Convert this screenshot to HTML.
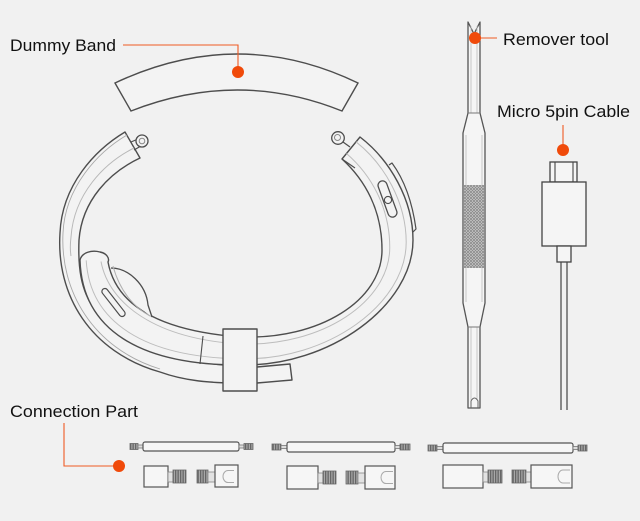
<!DOCTYPE html>
<html>
<head>
<meta charset="utf-8">
<style>
html,body{margin:0;padding:0;background:#f1f1f1;}
svg{display:block;}
text{font-family:"Liberation Sans",Arial,sans-serif;fill:#111;}
</style>
</head>
<body>
<svg width="640" height="521" viewBox="0 0 640 521" xmlns="http://www.w3.org/2000/svg">
<defs>
<pattern id="knurl" width="3" height="3" patternUnits="userSpaceOnUse">
<rect width="3" height="3" fill="#d4d4d4"/>
<path d="M0,0L3,3M3,0L0,3" stroke="#8a8a8a" stroke-width="0.8"/>
</pattern>
<pattern id="thr" width="2.5" height="4" patternUnits="userSpaceOnUse">
<rect width="2.5" height="4" fill="#a8a8a8"/>
<rect width="1.3" height="4" fill="#666"/>
</pattern>
</defs>
<rect width="640" height="521" fill="#f1f1f1"/>

<!-- Dummy band -->
<path d="M115,83 Q238,25 358,83 L342,111 Q238,69 131,111 Z" fill="#f3f3f3" stroke="#4d4d4d" stroke-width="1.4"/>

<!-- Main band: left strap -->
<g stroke-linejoin="round">
<path d="M125,132 C95,150 62,185 60,233 C56,295 90,352 160,372 C185,381 210,383 240,383 L257,383 L292,380 L290,364 L257,367 L240,366 C180,364 120,345 95,310 C80,290 78,265 79,240 C82,200 110,172 140,158 Z" fill="#f3f3f3" stroke="#4d4d4d" stroke-width="1.4"/>
<path d="M127,135 C98,152 65,187 63,233 C60,290 92,348 160,369" fill="none" stroke="#a8a8a8" stroke-width="0.9"/>
<path d="M134,148 C104,163 74,194 71,237 C70,245 70,250 71,256" fill="none" stroke="#b8b8b8" stroke-width="1"/>
<!-- left knob -->
<path d="M131,142 L138,139 M134,150 L141,146" stroke="#4d4d4d" stroke-width="1.2" fill="none"/>
<circle cx="142" cy="141" r="6" fill="#f3f3f3" stroke="#4d4d4d" stroke-width="1.3"/>
<circle cx="142" cy="141" r="2.8" fill="none" stroke="#888" stroke-width="1"/>

<!-- right strap -->
<path d="M80,260 C82,330 140,365 240,365 C330,367 413,305 413,240 C413,200 390,160 360,137 L342,159 C365,180 382,210 382,250 C382,300 320,340 240,337 C150,330 115,300 108,262 C110,258 106,253 100,252 C92,250 82,252 80,260 Z" fill="#f3f3f3" stroke="#4d4d4d" stroke-width="1.4"/>
<path d="M101,261.5 C109,303.75 155,338.75 240,344 C322.5,346.75 389.75,301.25 389.75,247.5 C389.75,207.5 371.25,175 346.5,153.5" fill="none" stroke="#bdbdbd" stroke-width="1"/>
<path d="M86.2,260.4 C89.9,322.3 144.4,357.3 240,358.8 C327.8,361.1 406.2,303.9 406.2,242.2 C406.2,202.2 384.5,164.4 356,141.8" fill="none" stroke="#bdbdbd" stroke-width="1"/>
<!-- right end knob -->
<path d="M350,147 L343,142" stroke="#4d4d4d" stroke-width="1.2" fill="none"/>
<circle cx="338" cy="138" r="6.3" fill="#f3f3f3" stroke="#4d4d4d" stroke-width="1.3"/>
<circle cx="337.5" cy="137.5" r="3" fill="none" stroke="#888" stroke-width="1"/>
<path d="M342,159 L355,168" stroke="#4d4d4d" stroke-width="1.1" fill="none"/>
<!-- plate on right outer -->
<path d="M389,165 L392,163 C403,178 412,200 416,229 L413,232" fill="none" stroke="#4d4d4d" stroke-width="1.2"/>
<!-- button slot -->
<rect x="-19" y="-4.5" width="38" height="9" rx="4.5" transform="translate(387.5,199) rotate(70)" fill="#f3f3f3" stroke="#4d4d4d" stroke-width="1.3"/>
<circle cx="388" cy="200" r="3.6" fill="#f3f3f3" stroke="#4d4d4d" stroke-width="1.1"/>
<!-- sensor dome -->
<path d="M111,268 C128,268 146,284 148,305 L152,317 C135,305 118,290 111,268 Z" fill="#f3f3f3" stroke="none"/>
<path d="M111,268 C128,268 146,284 148,305 L152,317" fill="none" stroke="#4d4d4d" stroke-width="1.3"/>
<path d="M113,266 C120,292 135,308 150,316" fill="none" stroke="#b0b0b0" stroke-width="1"/>
<!-- left slot -->
<rect x="-17" y="-3" width="34" height="6" rx="3" transform="translate(113.5,302.5) rotate(52)" fill="#f3f3f3" stroke="#4d4d4d" stroke-width="1.2"/>
<!-- segment line -->
<path d="M203,336 L200,364" stroke="#4d4d4d" stroke-width="1.1" fill="none"/>
<!-- keeper -->
<rect x="223" y="329" width="34" height="62" fill="#f3f3f3" stroke="#4d4d4d" stroke-width="1.4"/>
</g>

<!-- Remover tool -->
<path d="M468,22 L468,113 L463,133 L463,303 L468,327 L468,408 L480,408 L480,327 L485,303 L485,133 L480,113 L480,22 L474,34 Z" fill="#f5f5f5" stroke="#555" stroke-width="1.3" stroke-linejoin="round"/>
<rect x="464" y="185" width="20" height="83" fill="url(#knurl)"/>
<path d="M471,26 L471,113 M477,26 L477,113 M466,135 L466,185 M466,268 L466,302 M482,135 L482,185 M482,268 L482,302 M471,327 L471,400 M477,327 L477,400" stroke="#c4c4c4" stroke-width="0.9" fill="none"/>
<path d="M468,113 L480,113 M468,327 L480,327" stroke="#777" stroke-width="0.9"/>
<path d="M471,408 L471,401 Q474.5,395 478,401 L478,408" fill="none" stroke="#666" stroke-width="1"/>

<!-- Cable -->
<rect x="550" y="162" width="27" height="20" fill="#f5f5f5" stroke="#444" stroke-width="1.3"/>
<path d="M555,162 L555,182 M573,162 L573,182" stroke="#444" stroke-width="1.1"/>
<rect x="542" y="182" width="44" height="64" fill="#f5f5f5" stroke="#444" stroke-width="1.3"/>
<rect x="557" y="246" width="14" height="16" fill="#f5f5f5" stroke="#444" stroke-width="1.3"/>
<path d="M561,262 L561,410 M567,262 L567,410" stroke="#444" stroke-width="1.2"/>

<!-- Pins -->
<g stroke-width="0.8">
<rect x="130" y="443.5" width="8" height="6" fill="url(#thr)" stroke="#666"/>
<rect x="138" y="445" width="5" height="3" fill="#ddd" stroke="#777"/>
<rect x="143" y="442" width="96" height="9" rx="2" fill="#f6f6f6" stroke="#555" stroke-width="1.2"/>
<rect x="239" y="445" width="5" height="3" fill="#ddd" stroke="#777"/>
<rect x="244" y="443.5" width="9" height="6" fill="url(#thr)" stroke="#666"/>

<rect x="272" y="444" width="9" height="6" fill="url(#thr)" stroke="#666"/>
<rect x="281" y="445.5" width="6" height="3" fill="#ddd" stroke="#777"/>
<rect x="287" y="442" width="108" height="10" rx="2" fill="#f6f6f6" stroke="#555" stroke-width="1.2"/>
<rect x="395" y="445.5" width="5" height="3" fill="#ddd" stroke="#777"/>
<rect x="400" y="444" width="10" height="6" fill="url(#thr)" stroke="#666"/>

<rect x="428" y="445" width="9" height="6" fill="url(#thr)" stroke="#666"/>
<rect x="437" y="446.5" width="6" height="3" fill="#ddd" stroke="#777"/>
<rect x="443" y="443" width="130" height="10" rx="2" fill="#f6f6f6" stroke="#555" stroke-width="1.2"/>
<rect x="573" y="446.5" width="5" height="3" fill="#ddd" stroke="#777"/>
<rect x="578" y="445" width="9" height="6" fill="url(#thr)" stroke="#666"/>
</g>

<!-- Screws -->
<g stroke-width="0.8">
<rect x="144" y="466" width="24" height="21" fill="#f6f6f6" stroke="#555" stroke-width="1.2"/>
<rect x="168" y="472" width="5" height="10" fill="#e2e2e2" stroke="#888"/>
<rect x="173" y="470" width="13" height="13" fill="url(#thr)" stroke="#666"/>
<rect x="197" y="470" width="11" height="13" fill="url(#thr)" stroke="#666"/>
<rect x="208" y="472" width="7" height="10" fill="#e2e2e2" stroke="#888"/>
<rect x="215" y="465" width="23" height="22" fill="#f6f6f6" stroke="#555" stroke-width="1.2"/>
<path d="M234,470.5 L228,470.5 A5,6 0 0 0 228,482.5 L234,482.5" fill="none" stroke="#aaa" stroke-width="1"/>

<rect x="287" y="466" width="31" height="23" fill="#f6f6f6" stroke="#555" stroke-width="1.2"/>
<rect x="318" y="473" width="5" height="10" fill="#e2e2e2" stroke="#888"/>
<rect x="323" y="471" width="13" height="13" fill="url(#thr)" stroke="#666"/>
<rect x="346" y="471" width="12" height="13" fill="url(#thr)" stroke="#666"/>
<rect x="358" y="473" width="7" height="10" fill="#e2e2e2" stroke="#888"/>
<rect x="365" y="466" width="30" height="23" fill="#f6f6f6" stroke="#555" stroke-width="1.2"/>
<path d="M393,471.5 L386,471.5 A5,6 0 0 0 386,483.5 L393,483.5" fill="none" stroke="#aaa" stroke-width="1"/>

<rect x="443" y="465" width="40" height="23" fill="#f6f6f6" stroke="#555" stroke-width="1.2"/>
<rect x="483" y="472" width="5" height="10" fill="#e2e2e2" stroke="#888"/>
<rect x="488" y="470" width="14" height="13" fill="url(#thr)" stroke="#666"/>
<rect x="512" y="470" width="14" height="13" fill="url(#thr)" stroke="#666"/>
<rect x="526" y="472" width="5" height="10" fill="#e2e2e2" stroke="#888"/>
<rect x="531" y="465" width="41" height="23" fill="#f6f6f6" stroke="#555" stroke-width="1.2"/>
<path d="M570,470 L563,470 A5,6.5 0 0 0 563,483 L570,483" fill="none" stroke="#aaa" stroke-width="1"/>
</g>

<!-- Callouts -->
<g fill="none" stroke="#ef5a24" stroke-width="1.1">
<polyline points="123,45 238,45 238,72"/>
<line x1="475" y1="38" x2="497" y2="38"/>
<line x1="563" y1="125" x2="563" y2="150"/>
<polyline points="64,423 64,466 119,466"/>
</g>
<g fill="#f04a0a">
<circle cx="238" cy="72" r="6"/>
<circle cx="475" cy="38" r="6"/>
<circle cx="563" cy="150" r="6"/>
<circle cx="119" cy="466" r="6"/>
</g>

<!-- Labels -->
<text x="10" y="51" font-size="17" textLength="106" lengthAdjust="spacingAndGlyphs">Dummy Band</text>
<text x="503" y="45" font-size="17" textLength="106" lengthAdjust="spacingAndGlyphs">Remover tool</text>
<text x="497" y="117" font-size="17" textLength="133" lengthAdjust="spacingAndGlyphs">Micro 5pin Cable</text>
<text x="10" y="417" font-size="17" textLength="128" lengthAdjust="spacingAndGlyphs">Connection Part</text>
</svg>
</body>
</html>
